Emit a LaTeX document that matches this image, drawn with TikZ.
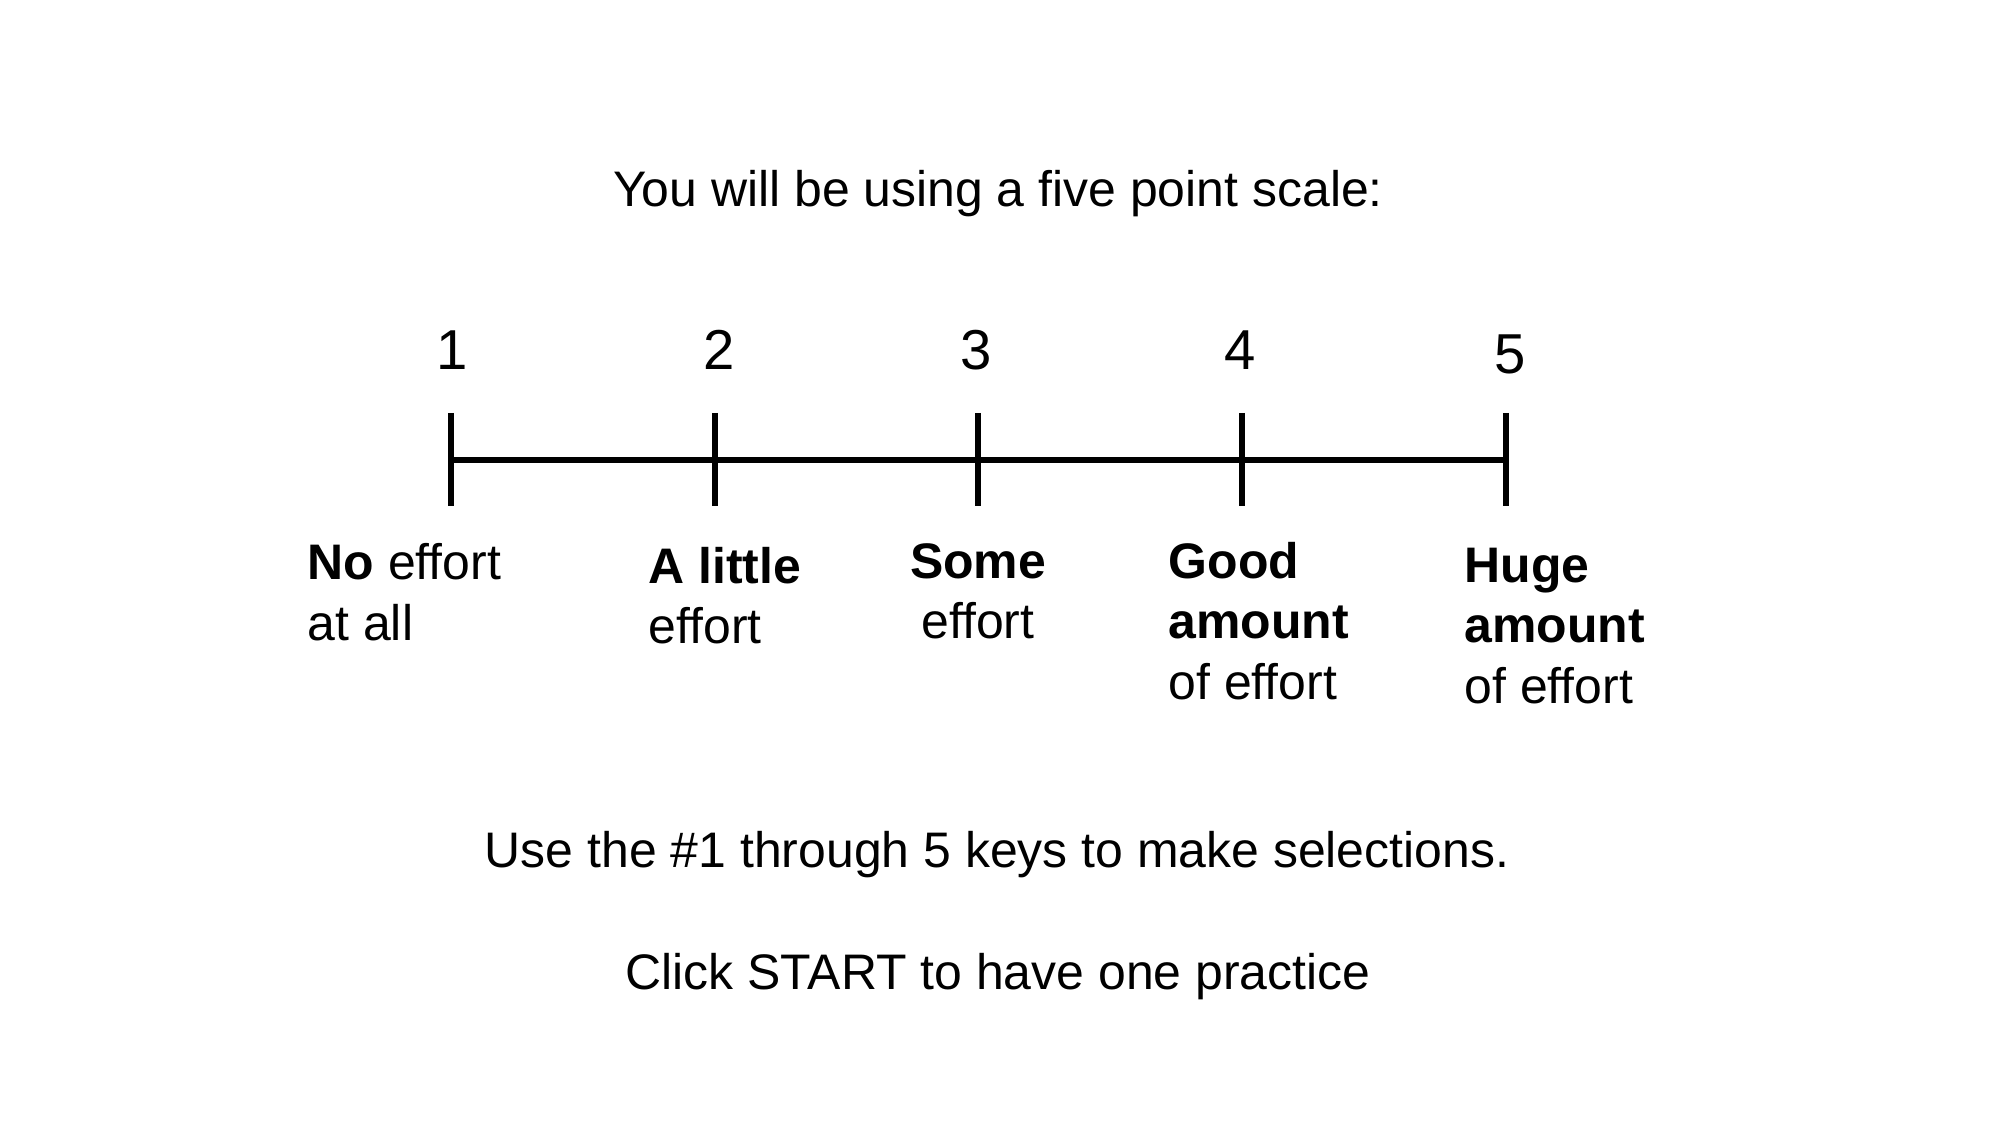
\documentclass[tikz,border=0pt]{standalone}
\usepackage{fontspec}
\setmainfont{Liberation Sans}
\begin{document}
\begin{tikzpicture}[x=0.01cm,y=-0.01cm,
  txt/.style={inner sep=0pt,font=\fontsize{14.2}{17.07}\selectfont},
  num/.style={inner sep=0pt,anchor=base,font=\fontsize{16}{19}\selectfont},
  lab/.style={txt,anchor=base west,align=left},
  scaleline/.style={line width=0.06cm,black},
  tickmark/.style={line width=0.06cm,black}]
\useasboundingbox[fill=white] (0,0) rectangle (2000,1125);
% title
\node[txt,anchor=base] (title) at (998,207) {You will be using a five point scale:};
% scale coordinates
\coordinate (t1) at (451,460);
\coordinate (t2) at (715,460);
\coordinate (t3) at (978,460);
\coordinate (t4) at (1242,460);
\coordinate (t5) at (1506,460);
\draw[scaleline] (t1) -- (t2) -- (t3) -- (t4) -- (t5);
\foreach \i in {1,...,5}{
  \draw[tickmark] ([yshift=0.47cm]t\i) -- ([yshift=-0.46cm]t\i);
}
% numbers
\node[num] (n1) at (452,370) {1};
\node[num] (n2) at (719,370) {2};
\node[num] (n3) at (976,370) {3};
\node[num] (n4) at (1240,370) {4};
\node[num] (n5) at (1510,374) {5};
% labels (base anchor = baseline of last line)
\node[lab] (l1) at (307,640) {\textbf{No} effort\\at all};
\node[lab] (l2) at (648,644) {\textbf{A little}\\effort};
\node[txt,anchor=base,align=center] (l3) at (978,639) {\textbf{Some}\\effort};
\node[lab] (l4) at (1168,699) {\textbf{Good}\\\textbf{amount}\\of effort};
\node[lab] (l5) at (1464,703) {\textbf{Huge}\\\textbf{amount}\\of effort};
% bottom texts
\node[txt,anchor=base] (keys) at (997,867) {Use the \#1 through 5 keys to make selections.};
\node[txt,anchor=base] (start) at (998,989) {Click START to have one practice};
\end{tikzpicture}
\end{document}
